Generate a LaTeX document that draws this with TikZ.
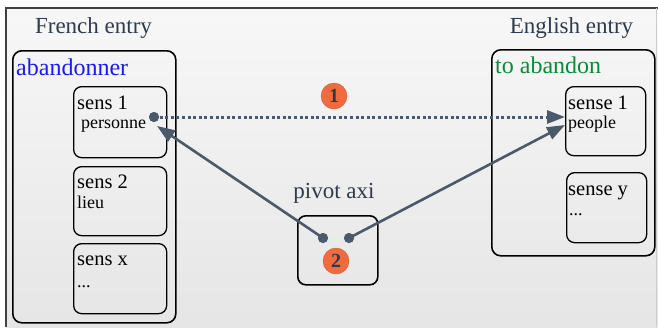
\documentclass[tikz,border=0pt]{standalone}
\usepackage{fontspec}
\setmainfont{Liberation Serif}
\usetikzlibrary{arrows.meta,shapes.geometric}
\definecolor{slate}{HTML}{4A5A6C}
\definecolor{labtxt}{HTML}{2E3B4E}
\definecolor{badge}{HTML}{F26B3F}
\definecolor{frenchblue}{HTML}{1A1AF0}
\definecolor{engreen}{HTML}{0A8A3A}
\tikzset{
  outerbox/.style={draw=black, line width=1.6pt, rounded corners=9pt, anchor=north west, inner sep=0pt},
  sensebox/.style={draw=black, line width=1.3pt, rounded corners=8pt, anchor=north west, inner sep=0pt},
  title/.style={anchor=base, inner sep=0pt, text=labtxt, font=\fontsize{23}{25}\selectfont},
  head/.style={anchor=base west, inner sep=0pt, font=\fontsize{24}{26}\selectfont},
  sname/.style={anchor=base west, inner sep=0pt, text depth=0pt, font=\fontsize{20.5}{22}\selectfont},
  sgloss/.style={anchor=base west, inner sep=0pt, text height=9pt, font=\fontsize{18}{20}\selectfont},
  badgestyle/.style={circle, fill=badge, draw=badge!85!black, line width=0.4pt, minimum size=26pt, inner sep=0pt, text=labtxt, font=\bfseries\fontsize{20}{20}\selectfont},
  dotc/.style={circle, fill=slate, minimum size=10pt, inner sep=0pt},
  link/.style={draw=slate, line width=2.6pt, -{Triangle[length=18pt,width=13pt]}},
  dotlink/.style={draw=slate, line width=3pt, dash pattern=on 3pt off 2.6pt, -{Triangle[length=18pt,width=13pt]}}
}
\begin{document}
\begin{tikzpicture}[x=1pt,y=-1pt]
\useasboundingbox (0,0) rectangle (658,327);
\fill[white] (0,0) rectangle (658,327);
\shade[top color=white!97!black, bottom color=white!90!black] (6,8) rectangle (658,327);
\draw[line width=1.2pt, black!75] (6,327) -- (6,8) -- (658,8);
\draw[line width=0.6pt, black!20] (656.5,8) -- (656.5,327);

% French side
\node[title] (frt) at (93.5,33) {French entry};
\node[outerbox, minimum width=163pt, minimum height=272pt] (fr) at (12,50) {};
\node[head, text=frenchblue] (frw) at (16,75) {abandonner};
\node[sensebox, minimum width=93pt, minimum height=71pt] (s1) at (73,86) {};
\node[sname] (s1n) at (77,109) {sens 1};
\node[sgloss] (s1g) at (81,128.5) {personne};
\node[sensebox, minimum width=93pt, minimum height=69pt] (s2) at (73,166) {};
\node[sname] (s2n) at (77,188) {sens 2};
\node[sgloss] (s2g) at (77,208) {lieu};
\node[sensebox, minimum width=93pt, minimum height=70pt] (sx) at (73,243) {};
\node[sname] (sxn) at (77,265) {sens x};
\node[sgloss] (sxg) at (77,287) {...};

% English side
\node[title] (ent) at (571.5,33) {English entry};
\node[outerbox, minimum width=163pt, minimum height=206pt] (en) at (491,49) {};
\node[head, text=engreen] (enw) at (495,73) {to abandon};
\node[sensebox, minimum width=80pt, minimum height=69pt] (e1) at (565,86) {};
\node[sname] (e1n) at (568,109) {sense 1};
\node[sgloss] (e1g) at (568,128) {people};
\node[sensebox, minimum width=80pt, minimum height=70pt] (ey) at (566,172) {};
\node[sname] (eyn) at (568,195) {sense y};
\node[sgloss] (eyg) at (569,215) {...};

% pivot
\node[title] (pt) at (334,198) {pivot axi};
\node[sensebox, line width=1.6pt, minimum width=80pt, minimum height=69pt] (pv) at (297,215) {};

% dots
\node[dotc] (d0) at (154,117) {};
\node[dotc] (d1) at (323,238) {};
\node[dotc] (d2) at (349,238) {};
\coordinate (t0) at (565,117);
\coordinate (t1) at (157,126);
\coordinate (t2) at (565,125);

\draw[dotlink] (d0.center) -- (t0);
\draw[link] (d1.center) -- (t1);
\draw[link] (d2.center) -- (t2);
\node[dotc] at (154,117) {};
\node[dotc] at (323,238) {};
\node[dotc] at (349,238) {};

\node[badgestyle] (b1) at (334,96) {1};
\node[badgestyle] (b2) at (336,261) {2};
\end{tikzpicture}
\end{document}
